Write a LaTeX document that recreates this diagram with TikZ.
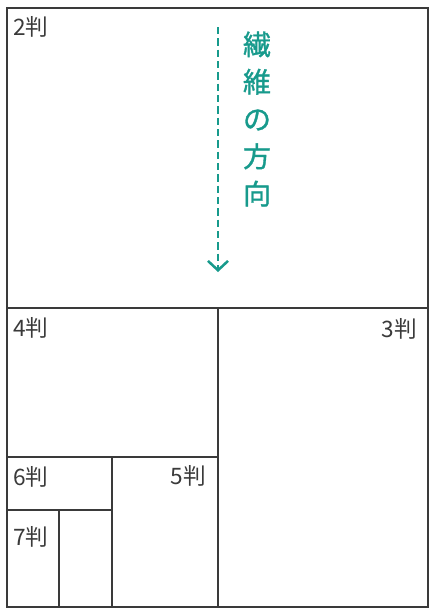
\documentclass[tikz,border=0pt]{standalone}
\usepackage{fontspec}
\setmainfont{Noto Sans CJK JP}
\newfontfamily\grainfont[FakeBold=1.2]{Noto Sans CJK JP}
\usetikzlibrary{arrows.meta}

\definecolor{fiber}{HTML}{179A8C}
\definecolor{cutline}{HTML}{3A3A3A}

\begin{document}
\begin{tikzpicture}[x=0.75pt, y=-0.75pt,
  cut/.style={cutline, line width=1.2pt},
  size/.style={font=\fontsize{17}{18}\selectfont, text=cutline, inner sep=0pt}]

\useasboundingbox (0,0) rectangle (435,615);

% Sheet outline
\coordinate (nw) at (7,8);
\coordinate (se) at (428,607);
\draw[cut] (nw) rectangle (se);

% Cuts
\draw[cut] (7,308) -- (428,308);
\draw[cut] (218,308) -- (218,607);
\draw[cut] (7,457) -- (218,457);
\draw[cut] (112,457) -- (112,607);
\draw[cut] (7,510) -- (112,510);
\draw[cut] (59,510) -- (59,607);

% Sizes
\node[size, anchor=west] (s2) at (13,27) {2判};
\node[size, anchor=west] (s4) at (13,328) {4判};
\node[size, anchor=east] (s3) at (417,329) {3判};
\node[size, anchor=west] (s6) at (13,477) {6判};
\node[size, anchor=east] (s5) at (206,476) {5判};
\node[size, anchor=west] (s7) at (13,537) {7判};

% Grain direction
\coordinate (grtop) at (218,27);
\coordinate (grbot) at (218,272);
\draw[fiber, line width=1.9pt, dash pattern=on 5.5pt off 3pt,
  -{Straight Barb[length=7pt, width=15pt]}] (grtop) -- (grbot);
\node[fiber, align=center, inner sep=0pt,
  font=\grainfont\fontsize{21}{28}\selectfont] (grain) at (257,119)
  {繊\\維\\の\\方\\向};

\end{tikzpicture}
\end{document}
